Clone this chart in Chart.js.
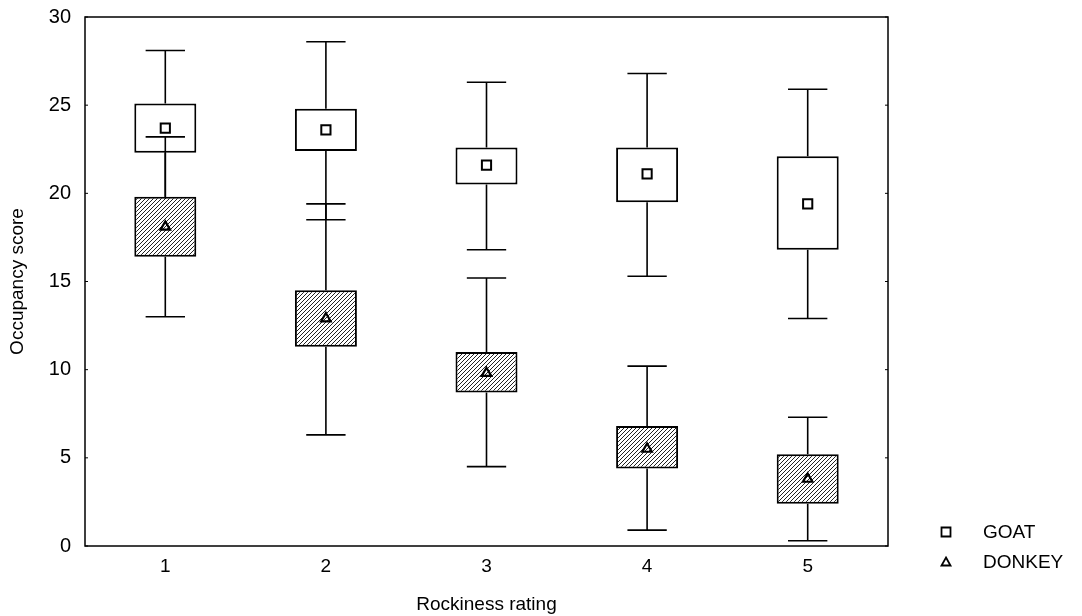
<!DOCTYPE html>
<html>
<head>
  <title>Occupancy score by rockiness rating</title>
  <script src="https://cdn.jsdelivr.net/npm/chart.js"></script>
  <style>
    body { margin: 0; background: #fff; }
    #wrap { width: 1082px; height: 616px; }
  </style>
</head>
<body>
<div id="wrap"><canvas id="boxChart"></canvas></div>
<script>
  // values (mean, box, whiskers)
  const categories = ['1', '2', '3', '4', '5'];
  const seriesNames = ['GOAT', 'DONKEY'];

  const goatMean = [23.7, 23.6, 21.6, 21.1, 19.4];
  const goatBoxLow = [22.3, 22.4, 20.5, 19.5, 16.8];
  const goatBoxHigh = [25.1, 24.8, 22.6, 22.6, 22.1];
  const goatWhiskLow = [19.3, 18.5, 16.8, 15.3, 12.9];
  const goatWhiskHigh = [28.1, 28.6, 26.3, 26.8, 25.9];

  const donkeyMean = [18.1, 12.9, 9.8, 5.5, 3.8];
  const donkeyBoxLow = [16.4, 11.3, 8.7, 4.4, 2.4];
  const donkeyBoxHigh = [19.8, 14.5, 11.0, 6.8, 5.2];
  const donkeyWhiskLow = [13.0, 6.3, 4.5, 0.9, 0.3];
  const donkeyWhiskHigh = [23.2, 19.4, 15.2, 10.2, 7.3];

  const FONT = '"Liberation Sans", Arial, sans-serif';

  // hatched fill for the donkey boxes
  function makeHatch(ctx) {
    const c = document.createElement('canvas');
    c.width = 4; c.height = 4;
    const g = c.getContext('2d');
    g.fillStyle = '#fff';
    g.fillRect(0, 0, 4, 4);
    g.strokeStyle = '#222';
    g.lineWidth = 1;
    g.beginPath();
    g.moveTo(0, 4); g.lineTo(4, 0);
    g.moveTo(-1, 1); g.lineTo(1, -1);
    g.moveTo(3, 5); g.lineTo(5, 3);
    g.stroke();
    return ctx.createPattern(c, 'repeat');
  }

  // whiskers keyed by the box dataset index
  const whiskers = {
    0: { boxLow: goatBoxLow, boxHigh: goatBoxHigh, low: goatWhiskLow, high: goatWhiskHigh },
    1: { boxLow: donkeyBoxLow, boxHigh: donkeyBoxHigh, low: donkeyWhiskLow, high: donkeyWhiskHigh }
  };

  const whiskerPlugin = {
    id: 'whiskers',
    afterDatasetDraw(chart, args) {
      const w = whiskers[args.index];
      if (!w) return;
      const ctx = chart.ctx;
      const xs = chart.scales.x, ys = chart.scales.y;
      const half = (xs.getPixelForValue(1) - xs.getPixelForValue(0)) * 0.245 / 2;
      ctx.save();
      ctx.strokeStyle = '#000';
      ctx.lineWidth = 1.6;
      w.low.forEach((lo, i) => {
        const cx = xs.getPixelForValue(i);
        [[w.boxLow[i], lo], [w.boxHigh[i], w.high[i]]].forEach(([from, to]) => {
          const y0 = ys.getPixelForValue(from);
          const y1 = ys.getPixelForValue(to);
          ctx.beginPath();
          ctx.moveTo(cx, y0);
          ctx.lineTo(cx, y1);
          ctx.moveTo(cx - half, y1);
          ctx.lineTo(cx + half, y1);
          ctx.stroke();
        });
      });
      ctx.restore();
    }
  };

  // frame, inner ticks and the legend in the bottom right corner
  const framePlugin = {
    id: 'frame',
    afterDraw(chart) {
      const ctx = chart.ctx;
      const a = chart.chartArea;
      const ys = chart.scales.y;
      ctx.save();
      ctx.strokeStyle = '#000';
      ctx.lineWidth = 1.5;
      ctx.strokeRect(a.left, a.top, a.right - a.left, a.bottom - a.top);
      ctx.lineWidth = 1;
      ys.ticks.forEach(t => {
        const y = ys.getPixelForValue(t.value);
        ctx.beginPath();
        ctx.moveTo(a.left, y); ctx.lineTo(a.left + 3, y);
        ctx.moveTo(a.right, y); ctx.lineTo(a.right - 3, y);
        ctx.stroke();
      });

      // legend
      const lx = 946;
      const rows = [532, 562];
      ctx.lineWidth = 1.8;
      ctx.fillStyle = '#000';
      ctx.font = '19px ' + FONT;
      ctx.textBaseline = 'middle';
      ctx.textAlign = 'left';
      seriesNames.forEach((name, i) => {
        const ly = rows[i];
        ctx.beginPath();
        if (i === 0) {
          ctx.rect(lx - 4.5, ly - 4.5, 9, 9);
        } else {
          ctx.moveTo(lx, ly - 4.5);
          ctx.lineTo(lx + 4.5, ly + 3.5);
          ctx.lineTo(lx - 4.5, ly + 3.5);
          ctx.closePath();
        }
        ctx.stroke();
        ctx.fillText(name, 983, ly + 1);
      });
      ctx.restore();
    }
  };

  const canvas = document.getElementById('boxChart');
  const hatch = makeHatch(canvas.getContext('2d'));

  const boxWidth = 0.386;

  const config = {
    type: 'bar',
    data: {
      labels: categories,
      datasets: [
        {
          label: seriesNames[0] + ' box',
          data: goatBoxLow.map((lo, i) => [lo, goatBoxHigh[i]]),
          backgroundColor: '#fff',
          borderColor: '#000',
          borderWidth: 2,
          borderSkipped: false,
          grouped: false,
          barPercentage: boxWidth,
          categoryPercentage: 1,
          order: 4
        },
        {
          label: seriesNames[1] + ' box',
          data: donkeyBoxLow.map((lo, i) => [lo, donkeyBoxHigh[i]]),
          backgroundColor: hatch,
          borderColor: '#000',
          borderWidth: 2,
          borderSkipped: false,
          grouped: false,
          barPercentage: boxWidth,
          categoryPercentage: 1,
          order: 3
        },
        {
          type: 'line',
          label: seriesNames[0],
          data: goatMean,
          showLine: false,
          pointStyle: 'rect',
          pointRadius: 6.5,
          pointBackgroundColor: '#fff',
          pointBorderColor: '#000',
          pointBorderWidth: 2,
          order: 2
        },
        {
          type: 'line',
          label: seriesNames[1],
          data: donkeyMean,
          showLine: false,
          pointStyle: 'triangle',
          pointRadius: 5.5,
          pointBackgroundColor: 'rgba(0,0,0,0)',
          pointBorderColor: '#000',
          pointBorderWidth: 2.2,
          order: 1
        }
      ]
    },
    options: {
      responsive: true,
      maintainAspectRatio: false,
      animation: false,
      events: [],
      layout: { padding: { top: 17, right: 194, bottom: 0, left: 0 } },
      plugins: {
        legend: { display: false },
        tooltip: { enabled: false }
      },
      scales: {
        x: {
          offset: true,
          grid: { display: false, drawTicks: false },
          border: { display: false },
          ticks: { color: '#000', font: { family: FONT, size: 19 }, padding: 9 },
          title: {
            display: true, text: 'Rockiness rating', color: '#000',
            font: { family: FONT, size: 19 }, padding: { top: 4, bottom: 0 }
          },
          afterFit(scale) { scale.height = 70; }
        },
        y: {
          min: 0,
          max: 30,
          // tick marks hidden, their length only spaces the labels from the axis
          grid: { display: false, drawTicks: true, tickLength: 14 },
          border: { display: false },
          ticks: { stepSize: 5, color: '#000', font: { family: FONT, size: 20 }, padding: 0 },
          title: {
            display: true, text: 'Occupancy score', color: '#000',
            font: { family: FONT, size: 19 }, padding: { top: 6, bottom: 4 }
          },
          afterFit(scale) { scale.width = 85; }
        }
      }
    },
    plugins: [whiskerPlugin, framePlugin]
  };

  const chart = new Chart(canvas, config);
</script>
</body>
</html>
